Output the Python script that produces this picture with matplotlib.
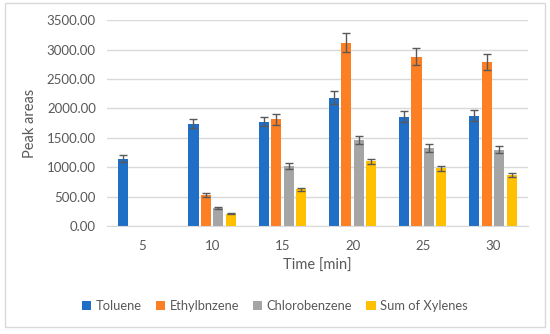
import numpy as np
import matplotlib.pyplot as plt
from matplotlib.patches import Rectangle

plt.rcParams['font.family'] = ['Lato', 'DejaVu Sans']

# data
times = ['5', '10', '15', '20', '25', '30']
series = ['Toluene', 'Ethylbnzene', 'Chlorobenzene', 'Sum of Xylenes']
colors = ['#1f6fc6', '#fd7f24', '#a5a5a5', '#ffc000']

toluene = [1150, 1740, 1775, 2180, 1860, 1880]
toluene_err = [60, 80, 80, 110, 90, 100]
ethyl = [0, 530, 1815, 3115, 2880, 2790]
ethyl_err = [0, 30, 90, 160, 140, 140]
chloro = [0, 310, 1030, 1470, 1325, 1300]
chloro_err = [0, 20, 50, 70, 70, 60]
xylenes = [0, 215, 625, 1100, 985, 870]
xylenes_err = [0, 15, 30, 50, 45, 40]

values = [toluene, ethyl, chloro, xylenes]
errors = [toluene_err, ethyl_err, chloro_err, xylenes_err]

fig = plt.figure(figsize=(5.5, 3.34), dpi=100)
ax = fig.add_axes([0.1945, 0.3225, 0.7655, 0.6175])

# outer border like the spreadsheet chart area
fig.patches.append(Rectangle((0.009, 0.02), 0.982, 0.97, transform=fig.transFigure,
                             fill=False, edgecolor='#d9d9d9', linewidth=1))

x = np.arange(len(times))
w = 0.143
step = 0.178
for i in range(4):
    pos = x + (i - 1.5) * step
    vals = np.array(values[i])
    errs = np.array(errors[i])
    ax.bar(pos, vals, w, color=colors[i], label=series[i], zorder=2)
    m = vals > 0
    ax.errorbar(pos[m], vals[m], yerr=errs[m], fmt='none', ecolor='#595959',
                elinewidth=1, capsize=3, capthick=1, zorder=3)

ax.set_ylim(0, 3500)
ax.set_xlim(-0.5, 5.5)
ax.set_yticks(np.arange(0, 3501, 500))
ax.set_yticklabels([f'{v:.2f}' for v in np.arange(0, 3501, 500)])
ax.set_xticks(x)
ax.set_xticklabels(times)
ax.grid(axis='y', color='#d9d9d9', linewidth=1, zorder=0)
for s in ['top', 'right', 'left']:
    ax.spines[s].set_visible(False)
ax.spines['bottom'].set_color('#d9d9d9')
ax.tick_params(length=0, labelsize=9.5, colors='#595959', pad=8)
ax.tick_params(axis='x', pad=10)

ax.set_xlabel('Time [min]', fontsize=10.5, color='#595959', labelpad=5)
ax.set_ylabel('Peak areas', fontsize=10.5, color='#595959', labelpad=7)

fig.legend(loc='center', bbox_to_anchor=(0.5, 0.085), ncol=4, frameon=False,
           fontsize=9.3, labelcolor='#595959', handlelength=0.7, handleheight=0.7,
           handletextpad=0.35, columnspacing=1.1)

fig.savefig('out.png', dpi=100)
